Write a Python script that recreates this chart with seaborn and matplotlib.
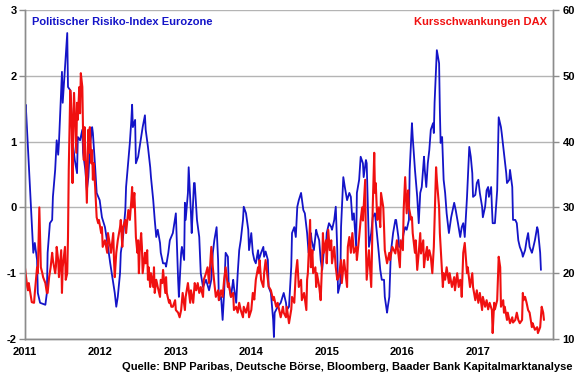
import matplotlib
matplotlib.use("Agg")
import matplotlib.pyplot as plt
import seaborn as sns
import numpy as np

sns.set_theme(style="white")
plt.rcParams['font.family'] = ['Liberation Sans', 'DejaVu Sans']

# Political risk index Eurozone (left axis): decimal year, value
blue_t = [2011.00, 2011.01, 2011.11, 2011.13, 2011.16, 2011.17, 2011.20, 2011.27, 2011.29, 2011.30,
          2011.33, 2011.36, 2011.37, 2011.40, 2011.42, 2011.44, 2011.45, 2011.48, 2011.49, 2011.50,
          2011.53, 2011.56, 2011.57, 2011.60, 2011.62, 2011.64, 2011.66, 2011.69, 2011.70, 2011.73,
          2011.76, 2011.77, 2011.80, 2011.82, 2011.84, 2011.86, 2011.89, 2011.90, 2011.93, 2011.95,
          2011.99, 2012.02, 2012.06, 2012.10, 2012.13, 2012.15, 2012.19, 2012.21, 2012.23, 2012.26,
          2012.27, 2012.30, 2012.33, 2012.34, 2012.37, 2012.39, 2012.41, 2012.42, 2012.43, 2012.46,
          2012.47, 2012.50, 2012.52, 2012.54, 2012.56, 2012.59, 2012.60, 2012.63, 2012.66, 2012.67,
          2012.70, 2012.72, 2012.74, 2012.76, 2012.79, 2012.80, 2012.83, 2012.86, 2012.87, 2012.90,
          2012.92, 2012.96, 2013.00, 2013.03, 2013.04, 2013.07, 2013.08, 2013.11, 2013.12, 2013.13,
          2013.16, 2013.17, 2013.20, 2013.21, 2013.24, 2013.25, 2013.28, 2013.31, 2013.33, 2013.36,
          2013.40, 2013.44, 2013.47, 2013.49, 2013.51, 2013.54, 2013.56, 2013.57, 2013.60, 2013.62,
          2013.64, 2013.66, 2013.69, 2013.70, 2013.73, 2013.76, 2013.77, 2013.80, 2013.82, 2013.84,
          2013.86, 2013.89, 2013.90, 2013.93, 2013.96, 2013.97, 2014.00, 2014.02, 2014.04, 2014.06,
          2014.09, 2014.10, 2014.13, 2014.16, 2014.17, 2014.19, 2014.22, 2014.23, 2014.26, 2014.29,
          2014.30, 2014.31, 2014.35, 2014.39, 2014.43, 2014.46, 2014.47, 2014.50, 2014.53, 2014.54,
          2014.57, 2014.59, 2014.61, 2014.63, 2014.66, 2014.69, 2014.71, 2014.74, 2014.76, 2014.79,
          2014.80, 2014.83, 2014.86, 2014.87, 2014.90, 2014.92, 2014.94, 2014.96, 2014.99, 2015.00,
          2015.03, 2015.06, 2015.07, 2015.10, 2015.12, 2015.14, 2015.15, 2015.18, 2015.19, 2015.22,
          2015.24, 2015.27, 2015.30, 2015.32, 2015.34, 2015.36, 2015.39, 2015.40, 2015.43, 2015.45,
          2015.48, 2015.49, 2015.52, 2015.53, 2015.56, 2015.59, 2015.61, 2015.64, 2015.67, 2015.69,
          2015.71, 2015.73, 2015.76, 2015.77, 2015.80, 2015.81, 2015.83, 2015.84, 2015.85, 2015.88,
          2015.91, 2015.92, 2015.95, 2015.96, 2015.99, 2016.02, 2016.04, 2016.06, 2016.09, 2016.10,
          2016.13, 2016.14, 2016.17, 2016.20, 2016.22, 2016.24, 2016.26, 2016.29, 2016.30, 2016.32,
          2016.34, 2016.36, 2016.38, 2016.41, 2016.42, 2016.43, 2016.46, 2016.49, 2016.50, 2016.51,
          2016.53, 2016.55, 2016.57, 2016.59, 2016.62, 2016.65, 2016.69, 2016.71, 2016.74, 2016.77,
          2016.79, 2016.81, 2016.83, 2016.86, 2016.87, 2016.89, 2016.91, 2016.93, 2016.94, 2016.97,
          2016.99, 2017.01, 2017.03, 2017.06, 2017.07, 2017.10, 2017.12, 2017.14, 2017.15, 2017.18,
          2017.19, 2017.20, 2017.23, 2017.26, 2017.27, 2017.28, 2017.31, 2017.32, 2017.35, 2017.38,
          2017.39, 2017.42, 2017.43, 2017.46, 2017.47, 2017.50, 2017.52, 2017.54, 2017.56, 2017.59,
          2017.60, 2017.63, 2017.65, 2017.67, 2017.69, 2017.72, 2017.73, 2017.76, 2017.79, 2017.80,
          2017.83, 2017.84]
blue_v = [1.33, 1.56, -0.69, -0.54, -0.80, -1.30, -1.45, -1.48, -1.30, -0.69,
          -0.24, -0.19, 0.16, 0.57, 1.02, 0.80, 0.98, 1.78, 2.06, 1.59,
          2.13, 2.65, 1.83, 1.78, 1.33, 0.92, 0.72, 0.52, 1.07, 1.02,
          1.18, 0.83, 0.57, 0.26, 0.46, 0.92, 1.22, 1.13, 0.61, 0.22,
          0.11, -0.15, -0.30, -0.60, -0.85, -1.00, -1.30, -1.51, -1.36, -1.00,
          -0.69, -0.45, -0.04, 0.31, 0.72, 0.98, 1.33, 1.56, 1.22, 1.33,
          0.67, 0.77, 0.92, 1.07, 1.22, 1.40, 1.18, 0.92, 0.61, 0.46,
          0.11, -0.19, -0.45, -0.34, -0.54, -0.69, -0.85, -0.85, -0.90, -0.69,
          -0.50, -0.39, -0.09, -1.10, -1.36, -0.69, -0.60, -0.80, 0.07, -0.19,
          0.22, 0.61, -0.09, -0.39, 0.37, 0.37, -0.19, -0.45, -1.00, -1.21,
          -1.10, -1.26, -1.10, -0.69, -0.50, -0.30, -0.80, -1.41, -1.36, -1.71,
          -1.30, -0.69, -0.75, -1.15, -1.36, -1.10, -1.21, -1.45, -1.00, -0.65,
          -0.50, -0.19, 0.01, -0.09, -0.34, -0.65, -0.39, -0.69, -0.80, -0.85,
          -0.65, -0.80, -0.69, -0.60, -0.75, -0.67, -0.80, -1.21, -1.30, -1.71,
          -1.97, -1.60, -1.51, -1.45, -1.30, -1.45, -1.56, -1.51, -0.90, -0.39,
          -0.30, -0.45, 0.01, 0.11, 0.22, -0.04, -0.09, -0.39, -0.69, -0.39,
          -0.50, -0.65, -0.34, -0.39, -0.50, -0.80, -0.95, -0.69, -0.60, -0.39,
          -0.24, -0.30, -0.34, -0.19, 0.01, -0.65, -1.30, -1.15, -0.30, 0.46,
          0.31, 0.11, 0.22, 0.16, -0.19, -0.09, -0.60, 0.22, 0.42, 0.77,
          0.67, 0.46, 0.72, 0.67, -0.60, -0.39, -0.15, -0.09, -0.45, -0.69,
          -0.95, -1.10, -1.10, -1.36, -1.60, -1.51, -1.36, -1.00, -0.69, -0.39,
          -0.19, -0.19, -0.45, -0.60, -0.60, -0.39, -0.30, -0.34, -0.19, 0.57,
          1.28, 1.07, 0.57, 0.16, -0.24, 0.22, 0.31, 0.77, 0.57, 0.31,
          0.67, 0.87, 1.18, 1.28, 1.13, 1.59, 2.39, 2.19, 1.48, 0.98,
          1.07, 0.42, 0.22, -0.09, -0.39, -0.15, 0.07, -0.04, -0.24, -0.45,
          -0.30, -0.24, -0.45, 0.16, 0.42, 0.92, 0.77, 0.52, 0.16, 0.19,
          0.37, 0.42, 0.22, 0.01, -0.15, 0.01, 0.26, 0.31, 0.16, 0.31,
          0.01, -0.24, -0.24, 0.26, 0.83, 1.37, 1.22, 1.13, 0.83, 0.52,
          0.37, 0.42, 0.57, 0.31, -0.19, -0.19, -0.24, -0.50, -0.60, -0.69,
          -0.75, -0.65, -0.50, -0.39, -0.60, -0.69, -0.65, -0.50, -0.30, -0.34,
          -0.69, -0.95]

# DAX volatility (right axis): decimal year, value
red_t = [2011.00, 2011.03, 2011.04, 2011.05, 2011.08, 2011.09, 2011.12, 2011.13, 2011.16, 2011.17,
         2011.19, 2011.20, 2011.21, 2011.23, 2011.24, 2011.27, 2011.29, 2011.30, 2011.32, 2011.34,
         2011.36, 2011.37, 2011.40, 2011.41, 2011.42, 2011.44, 2011.45, 2011.48, 2011.49, 2011.50,
         2011.53, 2011.54, 2011.56, 2011.57, 2011.58, 2011.60, 2011.61, 2011.62, 2011.63, 2011.64,
         2011.65, 2011.68, 2011.69, 2011.70, 2011.72, 2011.73, 2011.74, 2011.76, 2011.77, 2011.78,
         2011.79, 2011.80, 2011.82, 2011.84, 2011.85, 2011.86, 2011.88, 2011.89, 2011.90, 2011.91,
         2011.93, 2011.95, 2011.97, 2011.98, 2012.01, 2012.02, 2012.03, 2012.06, 2012.09, 2012.10,
         2012.13, 2012.14, 2012.17, 2012.18, 2012.19, 2012.21, 2012.23, 2012.26, 2012.27, 2012.29,
         2012.30, 2012.33, 2012.34, 2012.37, 2012.39, 2012.41, 2012.42, 2012.43, 2012.45, 2012.46,
         2012.47, 2012.49, 2012.50, 2012.51, 2012.52, 2012.54, 2012.55, 2012.56, 2012.59, 2012.60,
         2012.62, 2012.63, 2012.64, 2012.66, 2012.67, 2012.70, 2012.71, 2012.72, 2012.74, 2012.76,
         2012.79, 2012.80, 2012.82, 2012.83, 2012.86, 2012.87, 2012.88, 2012.91, 2012.92, 2012.94,
         2012.96, 2012.99, 2013.00, 2013.03, 2013.05, 2013.07, 2013.09, 2013.12, 2013.13, 2013.16,
         2013.19, 2013.20, 2013.23, 2013.25, 2013.27, 2013.29, 2013.31, 2013.33, 2013.36, 2013.37,
         2013.40, 2013.42, 2013.44, 2013.47, 2013.49, 2013.51, 2013.53, 2013.56, 2013.57, 2013.60,
         2013.62, 2013.64, 2013.66, 2013.69, 2013.70, 2013.73, 2013.76, 2013.77, 2013.80, 2013.82,
         2013.84, 2013.86, 2013.89, 2013.90, 2013.93, 2013.96, 2013.97, 2014.00, 2014.02, 2014.04,
         2014.06, 2014.09, 2014.10, 2014.11, 2014.13, 2014.16, 2014.17, 2014.19, 2014.22, 2014.23,
         2014.26, 2014.29, 2014.30, 2014.33, 2014.35, 2014.37, 2014.39, 2014.42, 2014.43, 2014.46,
         2014.47, 2014.50, 2014.53, 2014.54, 2014.57, 2014.59, 2014.61, 2014.63, 2014.66, 2014.67,
         2014.70, 2014.73, 2014.74, 2014.75, 2014.78, 2014.79, 2014.81, 2014.82, 2014.85, 2014.86,
         2014.87, 2014.90, 2014.92, 2014.94, 2014.95, 2014.96, 2014.99, 2015.00, 2015.02, 2015.04,
         2015.06, 2015.07, 2015.10, 2015.12, 2015.14, 2015.16, 2015.19, 2015.20, 2015.23, 2015.25,
         2015.27, 2015.28, 2015.30, 2015.32, 2015.34, 2015.36, 2015.39, 2015.40, 2015.43, 2015.45,
         2015.47, 2015.48, 2015.51, 2015.52, 2015.53, 2015.56, 2015.59, 2015.60, 2015.61, 2015.63,
         2015.64, 2015.65, 2015.67, 2015.69, 2015.71, 2015.72, 2015.75, 2015.76, 2015.77, 2015.80,
         2015.83, 2015.84, 2015.87, 2015.89, 2015.91, 2015.93, 2015.96, 2015.97, 2015.98, 2016.01,
         2016.02, 2016.04, 2016.06, 2016.08, 2016.09, 2016.12, 2016.13, 2016.14, 2016.17, 2016.18,
         2016.20, 2016.22, 2016.24, 2016.25, 2016.28, 2016.29, 2016.30, 2016.33, 2016.34, 2016.36,
         2016.38, 2016.40, 2016.42, 2016.43, 2016.45, 2016.46, 2016.49, 2016.50, 2016.51, 2016.54,
         2016.55, 2016.57, 2016.59, 2016.62, 2016.63, 2016.66, 2016.69, 2016.70, 2016.73, 2016.75,
         2016.77, 2016.78, 2016.79, 2016.81, 2016.83, 2016.86, 2016.87, 2016.90, 2016.93, 2016.94,
         2016.97, 2016.99, 2017.01, 2017.03, 2017.06, 2017.07, 2017.10, 2017.12, 2017.14, 2017.16,
         2017.19, 2017.20, 2017.22, 2017.23, 2017.26, 2017.27, 2017.28, 2017.30, 2017.31, 2017.34,
         2017.35, 2017.36, 2017.39, 2017.40, 2017.43, 2017.46, 2017.47, 2017.50, 2017.52, 2017.54,
         2017.56, 2017.59, 2017.60, 2017.61, 2017.63, 2017.65, 2017.67, 2017.69, 2017.72, 2017.73,
         2017.76, 2017.79, 2017.80, 2017.83, 2017.85, 2017.87, 2017.88]
red_v = [20.8, 17.9, 17.4, 18.5, 16.4, 15.6, 15.5, 17.0, 20.9, 20.0,
         30.0, 25.5, 20.9, 20.0, 19.4, 18.5, 17.0, 17.0, 19.4, 20.9,
         23.1, 22.0, 20.0, 21.0, 24.0, 22.0, 19.4, 23.5, 17.0, 20.9,
         24.0, 19.0, 20.0, 25.5, 35.7, 47.8, 45.9, 41.8, 33.7, 43.3,
         47.4, 38.3, 45.9, 43.3, 48.3, 44.3, 50.4, 48.3, 41.3, 37.2,
         42.2, 38.3, 30.7, 41.8, 38.3, 42.2, 36.7, 38.7, 34.2, 36.7,
         33.1, 28.5, 27.6, 28.1, 26.1, 27.0, 24.0, 25.0, 23.1, 26.1,
         24.0, 23.1, 26.1, 22.0, 19.4, 23.1, 25.0, 27.0, 28.1, 24.0,
         27.0, 28.1, 26.1, 29.6, 28.1, 31.1, 33.1, 30.0, 32.2, 29.1,
         25.5, 23.1, 25.0, 20.0, 23.1, 26.1, 24.0, 20.0, 23.1, 21.5,
         23.5, 19.0, 20.9, 17.9, 20.0, 17.9, 20.9, 17.0, 19.0, 17.9,
         16.4, 19.0, 18.5, 20.5, 17.0, 19.4, 17.0, 15.5, 15.9, 14.9,
         14.9, 15.9, 14.4, 14.0, 13.3, 14.4, 17.0, 14.4, 16.4, 18.5,
         15.5, 17.4, 15.5, 18.5, 17.4, 18.5, 17.0, 17.9, 16.4, 19.0,
         20.0, 20.9, 18.5, 24.0, 20.9, 18.5, 16.4, 17.4, 15.9, 17.4,
         16.4, 19.0, 20.9, 17.9, 18.5, 16.4, 17.0, 14.4, 14.9, 14.0,
         15.5, 14.4, 13.3, 14.9, 14.0, 15.5, 13.3, 14.4, 17.0, 16.0,
         19.0, 20.9, 20.0, 22.0, 19.0, 17.9, 20.0, 22.0, 19.0, 18.0,
         17.4, 15.9, 16.4, 14.9, 15.5, 14.4, 13.3, 14.9, 14.0, 13.3,
         14.9, 12.4, 14.5, 16.4, 15.5, 20.0, 22.0, 17.9, 19.0, 15.9,
         17.0, 14.4, 19.0, 20.0, 28.1, 20.9, 23.5, 20.0, 20.9, 17.9,
         20.0, 18.0, 15.9, 22.0, 26.1, 23.1, 25.0, 21.5, 26.6, 23.5,
         25.0, 21.5, 24.0, 20.9, 19.0, 19.4, 22.0, 18.5, 22.0, 20.0,
         17.9, 24.0, 25.5, 23.1, 26.1, 23.1, 24.0, 22.0, 25.5, 28.1,
         30.0, 28.0, 34.2, 24.0, 19.0, 23.5, 17.9, 23.1, 30.0, 38.3,
         32.2, 33.7, 28.1, 30.0, 27.0, 32.2, 30.0, 27.0, 23.5, 21.5,
         23.1, 22.0, 24.0, 23.5, 23.0, 25.0, 22.0, 20.9, 25.0, 23.5,
         29.6, 34.6, 29.1, 32.6, 30.0, 28.1, 28.5, 26.1, 23.1, 25.0,
         20.5, 23.1, 26.1, 23.0, 25.0, 20.9, 22.0, 24.0, 22.0, 23.5,
         22.5, 20.0, 24.0, 28.1, 36.1, 34.2, 30.0, 26.1, 24.0, 17.9,
         20.0, 19.0, 20.9, 18.5, 20.0, 17.9, 19.4, 17.4, 20.0, 17.9,
         19.0, 18.5, 16.4, 23.1, 24.6, 20.0, 20.9, 17.9, 20.0, 17.9,
         15.9, 17.4, 15.5, 17.0, 14.4, 16.4, 14.9, 15.9, 14.5, 15.5,
         14.4, 10.9, 15.5, 14.5, 15.9, 19.0, 22.5, 20.9, 14.9, 15.9,
         14.0, 14.9, 12.9, 14.0, 12.4, 13.3, 12.5, 12.9, 14.0, 12.9,
         12.4, 12.9, 17.0, 15.9, 16.4, 15.5, 14.4, 14.0, 11.8, 12.4,
         11.4, 11.8, 10.9, 11.8, 14.9, 14.0, 12.9]

year_ticks = [2011, 2012, 2013, 2014, 2015, 2016, 2017]
left_ticks = [-2, -1, 0, 1, 2, 3]
right_ticks = [10, 20, 30, 40, 50, 60]

blue_label = "Politischer Risiko-Index Eurozone"
red_label = "Kursschwankungen DAX"
source = "Quelle: BNP Paribas, Deutsche Börse, Bloomberg, Baader Bank Kapitalmarktanalyse"

BLUE = "#1414c8"
RED = "#f01010"
GRID = "#b4b4b4"
SPINE = "#8c8c8c"

fig = plt.figure(figsize=(5.8, 3.75), dpi=100)
ax = fig.add_axes([25/580, 1-339/375, (553-25)/580, (339-10)/375])
ax2 = ax.twinx()

sns.lineplot(x=blue_t, y=blue_v, ax=ax, color=BLUE, linewidth=1.3,
             estimator=None, sort=False)
sns.lineplot(x=red_t, y=red_v, ax=ax2, color=RED, linewidth=1.5,
             estimator=None, sort=False)

ax.set_xlim(2011, 2018)
ax.set_ylim(-2, 3)
ax2.set_ylim(10, 60)
ax.set_xticks(year_ticks)
ax.set_xticklabels([str(y) for y in year_ticks])
ax.set_yticks(left_ticks)
ax.set_yticklabels([str(v) for v in left_ticks])
ax2.set_yticks(right_ticks)
ax2.set_yticklabels([str(v) for v in right_ticks])

ax.grid(axis='y', color=GRID, linewidth=1.0)
ax.grid(axis='x', visible=False)
ax2.grid(False)
ax.set_axisbelow(True)

for a in (ax, ax2):
    a.set_xlabel("")
    a.set_ylabel("")
    a.spines['top'].set_visible(False)
    for s in ('left', 'right', 'bottom'):
        a.spines[s].set_color(SPINE)
        a.spines[s].set_linewidth(1.0)

ax.tick_params(axis='both', which='major', direction='out', length=4, width=1,
               color=SPINE, labelsize=8, pad=2)
ax2.tick_params(axis='y', direction='out', length=4, width=1, color=SPINE,
                labelsize=8, pad=3)
for lab in ax.get_xticklabels() + ax.get_yticklabels() + ax2.get_yticklabels():
    lab.set_fontweight('bold')
    lab.set_color('black')

ax.text(0.014, 0.965, blue_label, transform=ax.transAxes, color=BLUE,
        fontsize=8, fontweight='bold', ha='left', va='center')
ax.text(0.988, 0.965, red_label, transform=ax.transAxes, color=RED,
        fontsize=8, fontweight='bold', ha='right', va='center')
fig.text(573/580, 1-367/375, source, color='black', fontsize=8,
         fontweight='bold', ha='right', va='center')

fig.savefig("out.png", dpi=100)
